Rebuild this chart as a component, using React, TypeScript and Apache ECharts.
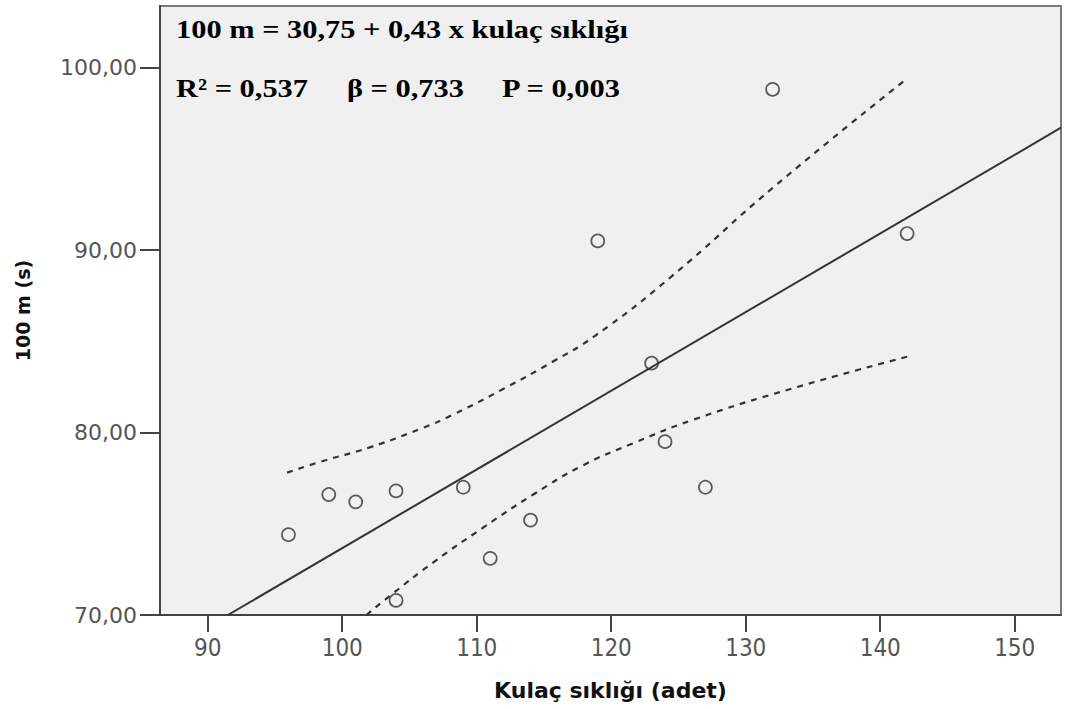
import React, { useEffect, useRef } from "react";
import * as echarts from "echarts";

// Observed points: [kulaç sıklığı (adet), 100 m (s)]
const points: [number, number][] = [
  [96, 74.4],
  [99, 76.6],
  [101, 76.2],
  [104, 76.8],
  [104, 70.8],
  [109, 77.0],
  [111, 73.1],
  [114, 75.2],
  [119, 90.5],
  [123, 83.8],
  [124, 79.5],
  [127, 77.0],
  [132, 98.8],
  [142, 90.9],
];

// Fitted line endpoints
const fitLine: [number, number][] = [
  [91.5, 70.0],
  [153.44, 96.7],
];

// Upper and lower dashed confidence curves
const upperBand: [number, number][] = [
  [95.9, 77.8],
  [98.4, 78.4],
  [102.1, 79.2],
  [105.8, 80.2],
  [108.3, 81.0],
  [112.0, 82.4],
  [115.7, 83.9],
  [118.8, 85.3],
  [124.4, 88.5],
  [132.0, 93.4],
  [142.0, 99.4],
];
const lowerBand: [number, number][] = [
  [101.8, 70.0],
  [103.8, 71.2],
  [106.8, 72.9],
  [110.5, 74.8],
  [114.2, 76.6],
  [117.9, 78.2],
  [121.6, 79.4],
  [126.1, 80.7],
  [133.4, 82.4],
  [142.0, 84.15],
];

const xTicks = [90, 100, 110, 120, 130, 140, 150];
const yTicks = [70, 80, 90, 100];

const xTitle = "Kulaç sıklığı (adet)";
const yTitle = "100 m (s)";
const eqLine = "100 m = 30,75 + 0,43 x kulaç sıklığı";
const statR = "R² = 0,537";
const statB = "β = 0,733";
const statP = "P = 0,003";

export default function App() {
  const ref = useRef<HTMLDivElement>(null);
  useEffect(() => {
    if (!ref.current) return;
    const chart = echarts.init(ref.current, null, { renderer: "svg" });
    const axisColor = "#444";
    const labelFont = "'DejaVu Sans Condensed', 'DejaVu Sans', sans-serif";
    const annot = {
      fontFamily: "'Liberation Serif', 'Times New Roman', serif",
      fontWeight: "bold" as const,
      fontSize: 26,
      fill: "#000",
      verticalAlign: "middle" as const,
      align: "left" as const,
    };
    chart.setOption({
      animation: false,
      backgroundColor: "#ffffff",
      grid: {
        left: 160,
        right: 7,
        top: 6,
        bottom: 94,
        show: true,
        backgroundColor: "#f0f0f0",
        borderColor: "#7a7a7a",
        borderWidth: 2,
      },
      xAxis: {
        type: "value",
        min: 86.45,
        max: 153.44,
        name: xTitle,
        nameLocation: "middle",
        nameGap: 64,
        nameTextStyle: {
          fontFamily: "'DejaVu Sans', sans-serif",
          fontWeight: "bold",
          fontSize: 22,
          color: "#111",
        },
        splitLine: { show: false },
        axisLine: { show: true, lineStyle: { color: axisColor, width: 2 } },
        axisTick: {
          show: true,
          length: 17,
          customValues: xTicks,
          lineStyle: { color: axisColor, width: 2 },
        },
        axisLabel: {
          customValues: xTicks,
          margin: 21,
          fontSize: 24,
          fontFamily: labelFont,
          color: "#555",
        },
      },
      yAxis: {
        type: "value",
        min: 70,
        max: 103.37,
        name: yTitle,
        nameLocation: "middle",
        nameGap: 128,
        nameRotate: 90,
        nameTextStyle: {
          fontFamily: "'DejaVu Sans', sans-serif",
          fontWeight: "bold",
          fontSize: 19,
          color: "#111",
        },
        splitLine: { show: false },
        axisLine: { show: true, lineStyle: { color: axisColor, width: 2 } },
        axisTick: {
          show: true,
          length: 20,
          customValues: yTicks,
          lineStyle: { color: axisColor, width: 2 },
        },
        axisLabel: {
          customValues: yTicks,
          margin: 23,
          fontSize: 22,
          fontFamily: "'DejaVu Sans', sans-serif",
          color: "#555",
          formatter: (v: number) => v.toFixed(2).replace(".", ","),
        },
      },
      graphic: [
        { type: "text", x: 176, y: 29, scaleX: 1.17, style: { ...annot, text: eqLine } },
        { type: "text", x: 176, y: 88, scaleX: 1.17, style: { ...annot, text: statR } },
        { type: "text", x: 347, y: 88, scaleX: 1.17, style: { ...annot, text: statB } },
        { type: "text", x: 502, y: 88, scaleX: 1.17, style: { ...annot, text: statP } },
      ],
      series: [
        {
          type: "line",
          data: fitLine,
          showSymbol: false,
          lineStyle: { color: "#333", width: 2 },
          z: 2,
        },
        {
          type: "line",
          data: upperBand,
          smooth: 0.5,
          showSymbol: false,
          lineStyle: { color: "#333", width: 2.2, type: [6, 6] },
          z: 2,
        },
        {
          type: "line",
          data: lowerBand,
          smooth: 0.5,
          showSymbol: false,
          lineStyle: { color: "#333", width: 2.2, type: [6, 6] },
          z: 2,
        },
        {
          type: "scatter",
          data: points,
          symbol: "circle",
          symbolSize: 13,
          itemStyle: { color: "rgba(0,0,0,0)", borderColor: "#333", borderWidth: 1.7 },
          z: 3,
        },
      ],
    });
    return () => chart.dispose();
  }, []);
  return (
    <div
      ref={ref}
      style={{ position: "fixed", left: 0, top: 0, width: 1068, height: 709, background: "#fff" }}
    />
  );
}
